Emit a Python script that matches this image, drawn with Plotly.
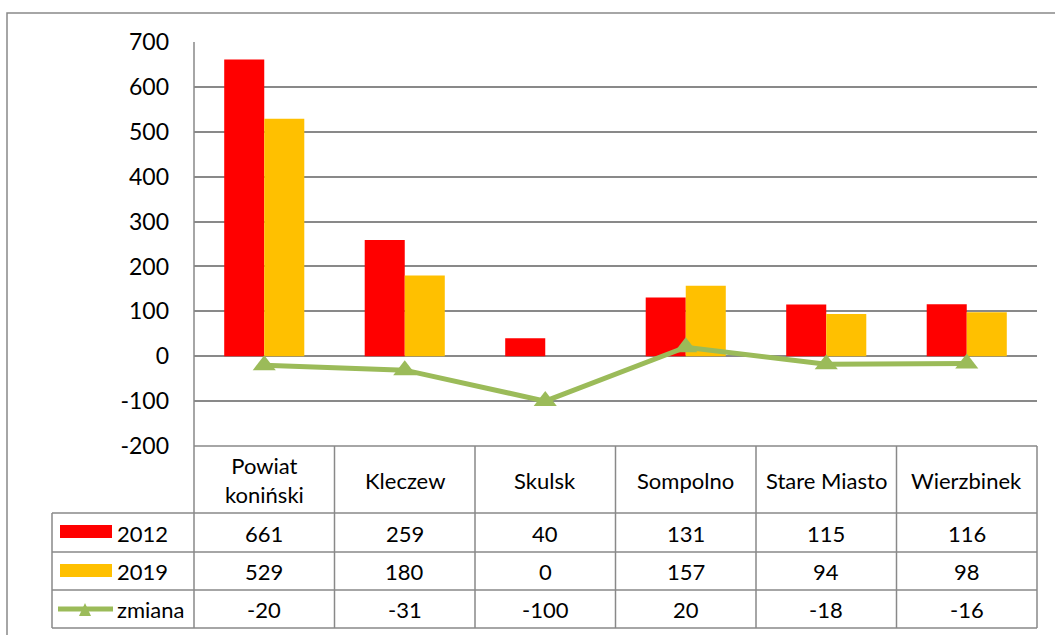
import plotly.graph_objects as go

categories = ["Powiat<br>koniński", "Kleczew", "Skulsk", "Sompolno", "Stare Miasto", "Wierzbinek"]
values_2012 = [661, 259, 40, 131, 115, 116]
values_2019 = [529, 180, 0, 157, 94, 98]
zmiana = [-20, -31, -100, 20, -18, -16]
y_ticks = [-200, -100, 0, 100, 200, 300, 400, 500, 600, 700]

# pixel geometry of the plot area
W, H = 1055, 635
L, R, T, B = 194, 1037, 42, 446
PW, PH = R - L, B - T

RED = "#FF0000"
YEL = "#FFC000"
GRN = "#9BBB59"
GRID = "#898989"
FONT = "Lato"


def px(xp):
    return (xp - L) / PW


def py(yp):
    return (B - yp) / PH


idx = list(range(len(categories)))

fig = go.Figure()
fig.add_trace(go.Bar(x=idx, y=values_2012, name="2012", marker_color=RED, marker_line_width=0))
fig.add_trace(go.Bar(x=idx, y=values_2019, name="2019", marker_color=YEL, marker_line_width=0))
fig.add_trace(go.Scatter(
    x=idx, y=zmiana, name="zmiana", mode="lines+markers",
    line={"color": GRN, "width": 5},
    marker={"symbol": "triangle-up", "size": 20, "color": GRN},
    cliponaxis=False,
))

shapes = []
ann = []


def hline(y, x0, x1):
    shapes.append(dict(type="line", xref="paper", yref="paper", x0=px(x0), x1=px(x1),
                       y0=py(y), y1=py(y), line={"color": GRID, "width": 1.5}))


def vline(x, y0, y1):
    shapes.append(dict(type="line", xref="paper", yref="paper", x0=px(x), x1=px(x),
                       y0=py(y0), y1=py(y1), line={"color": GRID, "width": 1.5}))


# outer chart frame
shapes.append(dict(type="rect", xref="paper", yref="paper", x0=px(7), x1=px(1070),
                   y0=py(650), y1=py(13), line={"color": GRID, "width": 1.5}, layer="below"))

# data table grid
row_lines = [513, 552, 590, 628]
hline(446, L, R)
for yl in row_lines:
    hline(yl, 52, R)
vline(52, 513, 628)
vline(L, T, 628)
col_w = PW / len(categories)
for i in range(1, len(categories) + 1):
    vline(L + i * col_w, 446, 628)

txt_font = {"size": 22, "color": "#000", "family": FONT}

# header + values
row_centers = [533, 571, 609]
for i, c in enumerate(categories):
    ann.append(dict(x=i, xref="x", y=py(480), yref="paper", text=c, showarrow=False,
                    xanchor="center", yanchor="middle", font=txt_font))
    for yc, series in zip(row_centers, [values_2012, values_2019, zmiana]):
        ann.append(dict(x=i, xref="x", y=py(yc), yref="paper", text=str(series[i]), showarrow=False,
                        xanchor="center", yanchor="middle", font=txt_font))

# legend keys
labels = ["2012", "2019", "zmiana"]
shapes.append(dict(type="rect", xref="paper", yref="paper", x0=px(60), x1=px(112),
                   y0=py(538), y1=py(525), fillcolor=RED, line={"width": 0}))
shapes.append(dict(type="rect", xref="paper", yref="paper", x0=px(60), x1=px(112),
                   y0=py(577), y1=py(564), fillcolor=YEL, line={"width": 0}))
shapes.append(dict(type="line", xref="paper", yref="paper", x0=px(58), x1=px(113),
                   y0=py(609), y1=py(609), line={"color": GRN, "width": 5}))
shapes.append(dict(type="path", xref="paper", yref="paper",
                   path="M {} {} L {} {} L {} {} Z".format(px(79), py(616), px(91), py(616), px(85), py(603)),
                   fillcolor=GRN, line={"width": 0}))
for yc, lab in zip(row_centers, labels):
    ann.append(dict(x=px(115), xref="paper", y=py(yc), yref="paper", text=lab, showarrow=False,
                    xanchor="left", yanchor="middle", font=txt_font))

fig.update_layout(
    width=W, height=H,
    margin={"l": L, "r": W - R, "t": T, "b": H - B, "pad": 0},
    paper_bgcolor="white", plot_bgcolor="white",
    barmode="group", bargap=0.43, bargroupgap=0,
    showlegend=False,
    font={"family": FONT, "color": "#000"},
    xaxis={"range": [-0.5, len(categories) - 0.5], "showticklabels": False, "showgrid": False,
           "zeroline": False, "showline": False, "ticks": ""},
    yaxis={"range": [-200, 700], "tickvals": y_ticks, "ticktext": [str(v) for v in y_ticks],
           "showgrid": True, "gridcolor": GRID,
           "gridwidth": 1.5, "zeroline": True, "zerolinecolor": GRID, "zerolinewidth": 1.5,
           "showline": False, "ticks": "", "ticklabelstandoff": 24,
           "tickfont": {"size": 23, "family": FONT, "color": "#000"}},
    shapes=shapes,
    annotations=ann,
)

fig.write_html("out.html", config={"displayModeBar": False},
               post_script="document.body.style.margin='0';document.body.style.overflow='hidden';")
